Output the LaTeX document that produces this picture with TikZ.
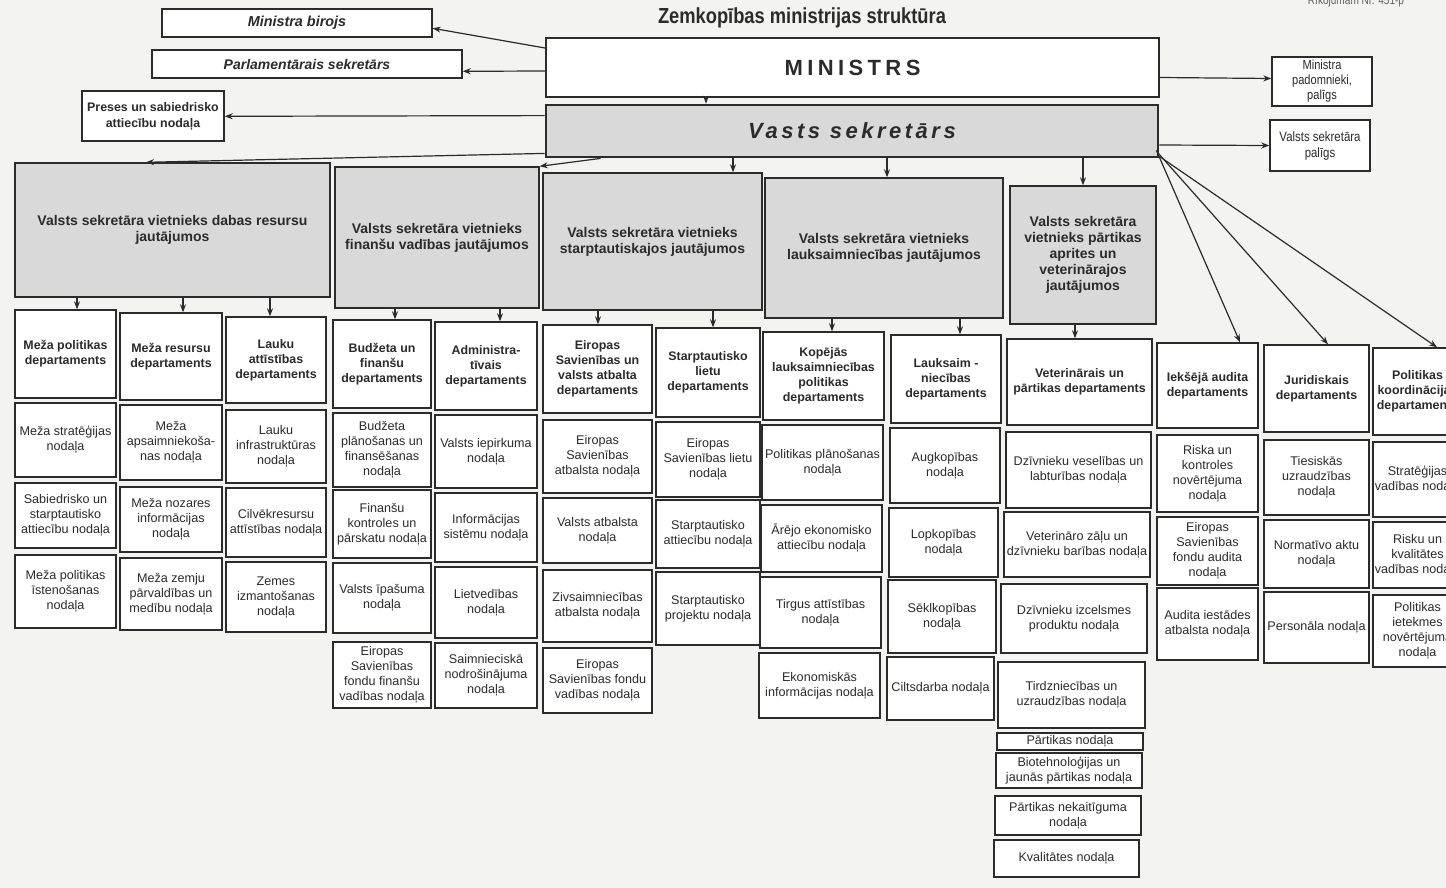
\documentclass[tikz,border=0pt]{standalone}
\usepackage{fontspec}
\setmainfont{Liberation Sans}
\newfontfamily\narrowfont[FakeStretch=0.84]{Liberation Sans}
\usetikzlibrary{arrows.meta,calc}
\definecolor{paper}{HTML}{F3F3F1}
\definecolor{ink}{HTML}{2B2B2B}
\definecolor{shade}{HTML}{D9D9D9}
\tikzset{
 box/.style={draw=ink,line width=0.7pt,fill=white,inner sep=0pt,align=center,text=ink},
 depfont/.style={font=\fontsize{6.2}{7.5}\selectfont\bfseries},
 nodfont/.style={font=\fontsize{6.3}{7.5}\selectfont},
 deputy/.style={fill=shade,font=\fontsize{7}{8}\selectfont\bfseries},
 arr/.style={draw=ink,line width=0.6pt,-{Stealth[length=4pt,width=3pt]}},
}
\newcommand\bx[7][]{%
 \pgfmathsetmacro\bw{(#5-#3)*0.5}%
 \pgfmathsetmacro\bh{(#6-#4)*0.5}%
 \node[box,#1,minimum width=\bw pt,minimum height=\bh pt] (#2) at ({(#3+#5)/2},{(#4+#6)/2}) {#7};}
\newcommand\dar[3]{\draw[arr] (#1.south -| #3,0) -- (#2.north -| #3,0);}
\begin{document}
\begin{tikzpicture}[x=0.5pt,y=-0.5pt]
\useasboundingbox (0,0) rectangle (1446,888);
\fill[paper] (0,0) rectangle (1446,888);
\clip (0,0) rectangle (1446,888);

% header
\node[font=\narrowfont\fontsize{10.9}{12}\selectfont\bfseries,text=ink] (title) at (802,18) {Zemkopības ministrijas struktūra};
\node[font=\narrowfont\fontsize{6}{7}\selectfont,text=ink!75] (rik) at (1356,1) {Rīkojumam Nr. 451-p};

\bx[font=\fontsize{7.2}{8}\selectfont\bfseries\itshape]{mb}{162}{9}{432}{37}{Ministra birojs}
\bx[font=\fontsize{7}{8}\selectfont\bfseries\itshape]{ps}{152}{50}{462}{78}{Parlamentārais sekretārs}
\bx[font=\fontsize{6.2}{8}\selectfont\bfseries]{pr}{82}{91}{224}{141}{Preses un sabiedrisko\\attiecību nodaļa}
\bx[line width=1pt,font=\fontsize{11}{13}\selectfont\bfseries\addfontfeature{LetterSpace=20}]{min}{546}{38}{1159}{97}{MINISTRS}
\bx[fill=shade,line width=1.4pt,font=\fontsize{11}{13}\selectfont\bfseries\itshape\addfontfeature{LetterSpace=16}]{vs}{546}{105}{1158}{157}{Vasts sekretārs}
\bx[font=\narrowfont\fontsize{6.6}{7.5}\selectfont]{mp}{1272}{57}{1372}{106}{Ministra\\padomnieki,\\palīgs}
\bx[font=\narrowfont\fontsize{6.8}{8}\selectfont]{vp}{1270}{120}{1370}{171}{Valsts sekretāra\\palīgs}

% deputies
\bx[deputy]{d1}{15}{163}{330}{297}{Valsts sekretāra vietnieks dabas resursu\\jautājumos}
\bx[deputy]{d2}{335}{167}{539}{308}{Valsts sekretāra vietnieks\\finanšu vadības jautājumos}
\bx[deputy]{d3}{543}{173}{762}{310}{Valsts sekretāra vietnieks\\starptautiskajos jautājumos}
\bx[deputy]{d4}{765}{178}{1003}{318}{Valsts sekretāra vietnieks\\lauksaimniecības jautājumos}
\bx[deputy]{d5}{1010}{186}{1156}{324}{Valsts sekretāra\\vietnieks pārtikas\\aprites un\\veterinārajos\\jautājumos}

% column 1
\bx[depfont]{c1a}{15}{310}{116}{398}{Meža politikas\\departaments}
\bx[nodfont]{c1b}{15}{403}{116}{477}{Meža stratēģijas\\nodaļa}
\bx[nodfont]{c1c}{15}{483}{116}{548}{Sabiedrisko un\\starptautisko\\attiecību nodaļa}
\bx[nodfont]{c1d}{15}{555}{116}{628}{Meža politikas\\īstenošanas\\nodaļa}
% column 2
\bx[depfont]{c2a}{120}{313}{222}{400}{Meža resursu\\departaments}
\bx[nodfont]{c2b}{120}{405}{222}{480}{Meža\\apsaimniekoša-\\nas nodaļa}
\bx[nodfont]{c2c}{120}{487}{222}{552}{Meža nozares\\informācijas\\nodaļa}
\bx[nodfont]{c2d}{120}{558}{222}{630}{Meža zemju\\pārvaldības un\\medību nodaļa}
% column 3
\bx[depfont]{c3a}{226}{317}{326}{403}{Lauku\\attīstības\\departaments}
\bx[nodfont]{c3b}{226}{410}{326}{483}{Lauku\\infrastruktūras\\nodaļa}
\bx[nodfont]{c3c}{226}{488}{326}{557}{Cilvēkresursu\\attīstības nodaļa}
\bx[nodfont]{c3d}{226}{562}{326}{632}{Zemes\\izmantošanas\\nodaļa}
% column 4
\bx[depfont]{c4a}{333}{320}{431}{408}{Budžeta un\\finanšu\\departaments}
\bx[nodfont]{c4b}{333}{413}{431}{487}{Budžeta\\plānošanas un\\finansēšanas\\nodaļa}
\bx[nodfont]{c4c}{333}{490}{431}{558}{Finanšu\\kontroles un\\pārskatu nodaļa}
\bx[nodfont]{c4d}{333}{563}{431}{633}{Valsts īpašuma\\nodaļa}
\bx[nodfont]{c4e}{333}{642}{431}{708}{Eiropas\\Savienības\\fondu finanšu\\vadības nodaļa}
% column 5
\bx[depfont]{c5a}{435}{322}{537}{410}{Administra-\\tīvais\\departaments}
\bx[nodfont]{c5b}{435}{415}{537}{488}{Valsts iepirkuma\\nodaļa}
\bx[nodfont]{c5c}{435}{493}{537}{562}{Informācijas\\sistēmu nodaļa}
\bx[nodfont]{c5d}{435}{567}{537}{638}{Lietvedības\\nodaļa}
\bx[nodfont]{c5e}{435}{643}{537}{708}{Saimnieciskā\\nodrošinājuma\\nodaļa}
% column 6
\bx[depfont]{c6a}{543}{325}{652}{413}{Eiropas\\Savienības un\\valsts atbalta\\departaments}
\bx[nodfont]{c6b}{543}{420}{652}{493}{Eiropas\\Savienības\\atbalsta nodaļa}
\bx[nodfont]{c6c}{543}{498}{652}{563}{Valsts atbalsta\\nodaļa}
\bx[nodfont]{c6d}{543}{570}{652}{642}{Zivsaimniecības\\atbalsta nodaļa}
\bx[nodfont]{c6e}{543}{648}{652}{713}{Eiropas\\Savienības fondu\\vadības nodaļa}
% column 7
\bx[depfont]{c7a}{656}{328}{760}{417}{Starptautisko\\lietu\\departaments}
\bx[nodfont]{c7b}{656}{422}{760}{497}{Eiropas\\Savienības lietu\\nodaļa}
\bx[nodfont]{c7c}{656}{500}{760}{568}{Starptautisko\\attiecību nodaļa}
\bx[nodfont]{c7d}{656}{572}{760}{645}{Starptautisko\\projektu nodaļa}
% column 8
\bx[depfont]{c8a}{763}{332}{884}{420}{Kopējās\\lauksaimniecības\\politikas\\departaments}
\bx[nodfont]{c8b}{762}{425}{883}{500}{Politikas plānošanas\\nodaļa}
\bx[nodfont]{c8c}{761}{505}{882}{572}{Ārējo ekonomisko\\attiecību nodaļa}
\bx[nodfont]{c8d}{760}{577}{881}{648}{Tirgus attīstības\\nodaļa}
\bx[nodfont]{c8e}{759}{653}{880}{718}{Ekonomiskās\\informācijas nodaļa}
% column 9
\bx[depfont]{c9a}{891}{335}{1001}{423}{Lauksaim -\\niecības\\departaments}
\bx[nodfont]{c9b}{890}{428}{1000}{503}{Augkopības\\nodaļa}
\bx[nodfont]{c9c}{889}{508}{998}{577}{Lopkopības\\nodaļa}
\bx[nodfont]{c9d}{888}{580}{996}{653}{Sēklkopības\\nodaļa}
\bx[nodfont]{c9e}{887}{657}{994}{720}{Ciltsdarba nodaļa}
% column 10
\bx[depfont]{c10a}{1007}{339}{1152}{425}{Veterinārais un\\pārtikas departaments}
\bx[nodfont]{c10b}{1006}{432}{1151}{508}{Dzīvnieku veselības un\\labturības nodaļa}
\bx[nodfont]{c10c}{1004}{512}{1150}{577}{Veterināro zāļu un\\dzīvnieku barības nodaļa}
\bx[nodfont]{c10d}{1001}{584}{1147}{653}{Dzīvnieku izcelsmes\\produktu nodaļa}
\bx[nodfont]{c10e}{998}{662}{1145}{728}{Tirdzniecības un\\uzraudzības nodaļa}
\bx[nodfont]{c10f}{997}{733}{1143}{750}{Pārtikas nodaļa}
\bx[nodfont]{c10g}{996}{753}{1142}{788}{Biotehnoloģijas un\\jaunās pārtikas nodaļa}
\bx[nodfont]{c10h}{995}{796}{1141}{835}{Pārtikas nekaitīguma\\nodaļa}
\bx[nodfont]{c10i}{994}{840}{1139}{877}{Kvalitātes nodaļa}
% column 11
\bx[depfont]{c11a}{1157}{343}{1258}{428}{Iekšējā audita\\departaments}
\bx[nodfont]{c11b}{1157}{435}{1258}{512}{Riska un\\kontroles\\novērtējuma\\nodaļa}
\bx[nodfont]{c11c}{1157}{517}{1258}{585}{Eiropas\\Savienības\\fondu audita\\nodaļa}
\bx[nodfont]{c11d}{1157}{588}{1258}{660}{Audita iestādes\\atbalsta nodaļa}
% column 12
\bx[depfont]{c12a}{1264}{345}{1369}{432}{Juridiskais\\departaments}
\bx[nodfont]{c12b}{1264}{440}{1369}{515}{Tiesiskās\\uzraudzības\\nodaļa}
\bx[nodfont]{c12c}{1264}{520}{1369}{588}{Normatīvo aktu\\nodaļa}
\bx[nodfont]{c12d}{1264}{592}{1369}{663}{Personāla nodaļa}
% column 13 (cut by the page edge, as in the reference)
\bx[depfont]{c13a}{1373}{348}{1462}{435}{Politikas\\koordinācijas\\departaments}
\bx[nodfont]{c13b}{1373}{442}{1462}{517}{Stratēģijas\\vadības nodaļa}
\bx[nodfont]{c13c}{1373}{522}{1462}{588}{Risku un\\kvalitātes\\vadības nodaļa}
\bx[nodfont]{c13d}{1373}{595}{1462}{667}{Politikas\\ietekmes\\novērtējuma\\nodaļa}

% connectors at the top
\draw[arr] ($(min.north west)+(0,11)$) -- ($(mb.north east)+(0,20)$);
\draw[arr] ($(min.north west)+(0,34)$) -- ($(ps.north east)+(0,22)$);
\draw[arr] ($(vs.north west)+(0,12)$) -- ($(pr.north east)+(0,26)$);
\draw[arr] (min.south -| 706,0) -- (vs.north -| 706,0);
\draw[arr] ($(min.east)+(0,10)$) -- ($(mp.west)+(0,-3)$);
\draw[arr] ($(vs.east)+(0,14)$) -- (vp.west);

% to deputies
\draw[arr] ($(vs.south west)+(0,-5)$) -- (d1.north -| 146,0);
\draw[arr] ($(vs.south west)+(56,0)$) -- (d2.north east);
\dar{vs}{d3}{733}
\dar{vs}{d4}{887}
\dar{vs}{d5}{1083}
\draw[arr] ($(vs.south east)+(-3,-8)$) -- (c11a.north -| 1240,0);
\draw[arr] ($(vs.south east)+(-1,-5)$) -- (c12a.north -| 1328,0);
\draw[arr] ($(vs.south east)+(0,-2)$) -- (c13a.north -| 1437,0);

% to departments
\dar{d1}{c1a}{77}
\dar{d1}{c2a}{183}
\dar{d1}{c3a}{270}
\dar{d2}{c4a}{395}
\dar{d2}{c5a}{500}
\dar{d3}{c6a}{598}
\dar{d3}{c7a}{713}
\dar{d4}{c8a}{832}
\dar{d4}{c9a}{960}
\dar{d5}{c10a}{1075}
\end{tikzpicture}
\end{document}
